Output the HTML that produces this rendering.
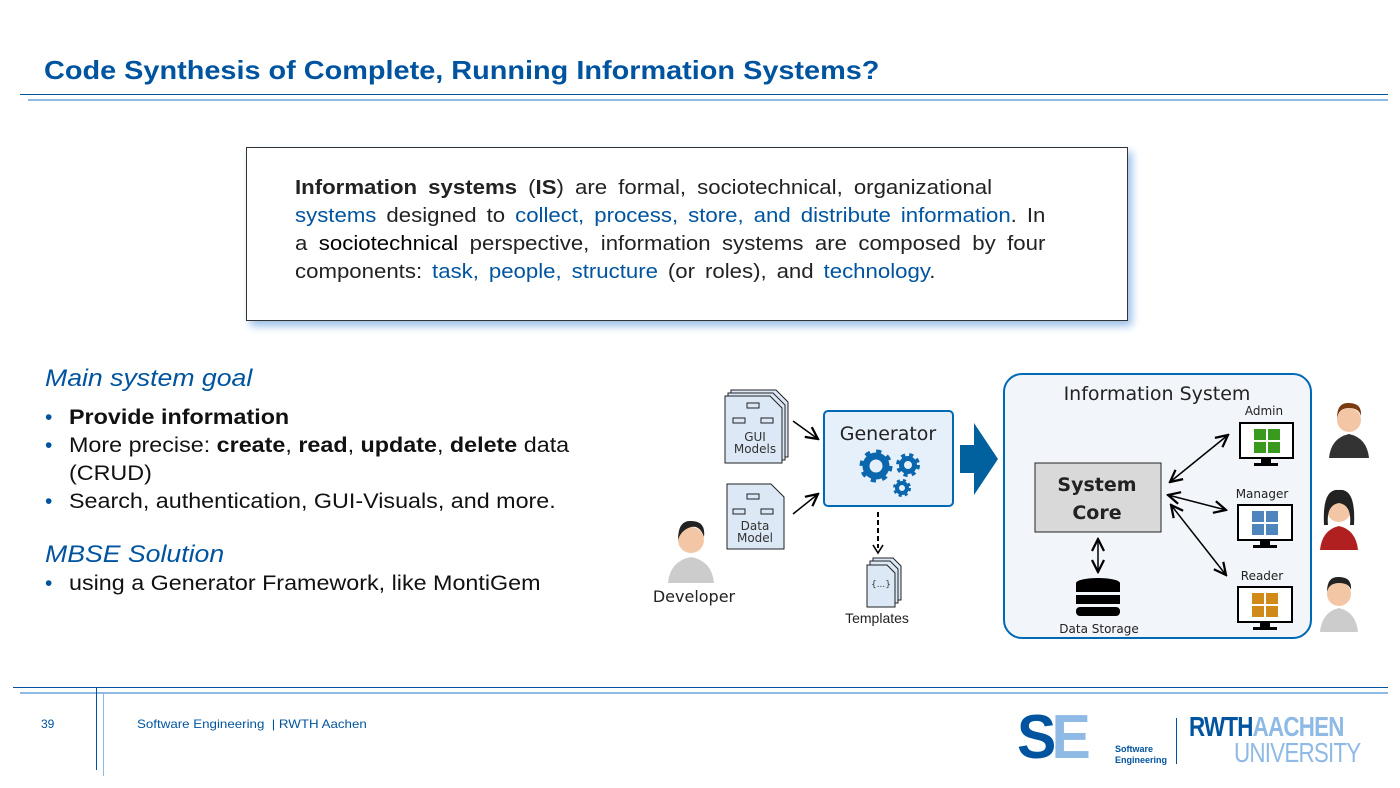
<!DOCTYPE html>
<html><head><meta charset="utf-8"><style>
body{margin:0;width:1400px;height:788px;position:relative;background:#fff;font-family:"Liberation Sans",sans-serif;overflow:hidden}
.a{position:absolute;white-space:nowrap}
.b{color:#00549f}
.w{transform:scaleX(1.11);transform-origin:left top}
.j{text-align:justify;text-align-last:justify;white-space:nowrap}
</style></head><body>
<div class="a b w" style="left:44px;top:55px;font-size:26px;font-weight:bold">Code Synthesis of Complete, Running Information Systems?</div>
<div class="a" style="left:20px;top:94px;width:1368px;height:1px;background:#00549f"></div>
<div class="a" style="left:28px;top:99px;width:1360px;height:2px;background:#8ebae5"></div>

<div class="a" style="left:246px;top:147px;width:880px;height:172px;border:1px solid #333;box-shadow:4px 5px 8px #9cc0ea;background:#fff"></div>
<div class="a w" style="left:295px;top:174px;font-size:20px;line-height:28px;color:#222">
<div class="j" style="width:628px"><b>Information systems</b> (<b>IS</b>) are formal, sociotechnical, organizational</div>
<div class="j" style="width:676px"><span class="b">systems</span> designed to <span class="b">collect, process, store, and distribute information</span>. In</div>
<div class="j" style="width:676px">a <span style="color:#000">sociotechnical</span> perspective, information systems are composed by four</div>
<div class="j" style="width:577px">components: <span class="b">task, people, structure</span> (or roles), and <span class="b">technology</span>.</div>
</div>

<div class="a b w" style="left:45px;top:365px;font-size:24px;font-style:italic">Main system goal</div>
<div class="a" style="left:45px;top:404px;font-size:21px;line-height:28px;color:#111">
<div><span class="b">•</span><span class="a w" style="left:24px"><b>Provide information</b></span></div>
<div><span class="b">•</span><span class="a w" style="left:24px">More precise: <b>create</b>, <b>read</b>, <b>update</b>, <b>delete</b> data</span></div>
<div>&nbsp;<span class="a w" style="left:24px">(CRUD)</span></div>
<div><span class="b">•</span><span class="a w" style="left:24px">Search, authentication, GUI-Visuals, and more.</span></div></div>
<div class="a b w" style="left:45px;top:541px;font-size:24px;font-style:italic">MBSE Solution</div>
<div class="a" style="left:45px;top:572px;font-size:21px;color:#111"><span class="b">•</span><span class="a w" style="left:24px">using a Generator Framework, like MontiGem</span></div>

<svg class="a" style="left:0;top:0" width="1400" height="788" font-family="DejaVu Sans, Liberation Sans, sans-serif">
<defs><marker id="ar" markerWidth="10" markerHeight="10" refX="9" refY="5" orient="auto-start-reverse"><path d="M1,1 L9,5 L1,9" fill="none" stroke="#000" stroke-width="1.5"/></marker></defs>
<g fill="#dce8f5" stroke="#222" stroke-width="1">
<path d="M731,390 h45 l12,12 v55 h-57z"/><path d="M728,393 h45 l12,12 v55 h-57z"/><path d="M725,396 h45 l12,12 v55 h-57z"/>
<path d="M727,484 h44 l13,13 v52 h-57z"/>
<path d="M873,558 h20 l8,8 v34 h-28z"/><path d="M870,561 h20 l8,8 v34 h-28z"/><path d="M867,565 h20 l8,8 v34 h-28z"/>
</g>
<g fill="none" stroke="#222"><rect x="747" y="403" width="12" height="5"/><rect x="733" y="418" width="12" height="5"/><rect x="761" y="418" width="12" height="5"/>
<rect x="747" y="494" width="12" height="5"/><rect x="733" y="509" width="12" height="5"/><rect x="761" y="509" width="12" height="5"/></g>
<text x="755" y="441" font-size="12" text-anchor="middle" fill="#333">GUI</text><text x="755" y="453" font-size="12" text-anchor="middle" fill="#333">Models</text>
<text x="755" y="530" font-size="12" text-anchor="middle" fill="#333">Data</text><text x="755" y="542" font-size="12" text-anchor="middle" fill="#333">Model</text>
<text x="881" y="587" font-size="9" text-anchor="middle" fill="#333">{...}</text>
<text x="877" y="623" font-size="14" text-anchor="middle" fill="#222" font-family="Liberation Sans">Templates</text>
<line x1="793" y1="421" x2="818" y2="439" stroke="#000" stroke-width="1.5" marker-end="url(#ar)"/>
<line x1="793" y1="514" x2="818" y2="494" stroke="#000" stroke-width="1.5" marker-end="url(#ar)"/>
<rect x="824" y="411" width="129" height="95" rx="4" fill="#e6f0fa" stroke="#0069b4" stroke-width="2"/>
<text x="888" y="440" font-size="19" text-anchor="middle" fill="#222">Generator</text>
<g fill="none" stroke="#0b67ad">
<circle cx="876" cy="466" r="10" stroke-width="7"/><circle cx="876" cy="466" r="14" stroke-width="5" stroke-dasharray="5,6"/>
<circle cx="908" cy="465" r="6.5" stroke-width="5"/><circle cx="908" cy="465" r="10" stroke-width="4" stroke-dasharray="4,4"/>
<circle cx="902" cy="488" r="5" stroke-width="4"/><circle cx="902" cy="488" r="7.5" stroke-width="3" stroke-dasharray="3,3"/>
</g>
<g fill="#000"><rect x="877" y="512" width="2" height="5"/><rect x="877" y="520" width="2" height="5"/><rect x="877" y="528" width="2" height="5"/><rect x="877" y="536" width="2" height="5"/><rect x="877" y="544" width="2" height="4"/></g>
<path d="M873,545 L878,553 L883,545" fill="none" stroke="#000" stroke-width="1.6"/>
<path d="M960,445 h14 v-22 l24,36 l-24,36 v-22 h-14z" fill="#00619e"/>
<circle cx="691" cy="540" r="13" fill="#f3c7a6"/><path d="M678,540 q0,-20 13,-19 q15,0 13,16 q-4,-12 -13,-10 q-10,3 -13,13z" fill="#222"/>
<path d="M668,583 q2,-22 23,-26 q21,4 23,26z" fill="#ccc"/>
<text x="694" y="602" font-size="16" text-anchor="middle" fill="#222">Developer</text>
<rect x="1004" y="374" width="307" height="264" rx="18" fill="#f2f6fa" stroke="#0069b4" stroke-width="2"/>
<text x="1157" y="400" font-size="19" text-anchor="middle" fill="#222">Information System</text>
<rect x="1035" y="463" width="126" height="69" fill="#d9d9d9" stroke="#222"/>
<text x="1097" y="491" font-size="19" font-weight="bold" text-anchor="middle" fill="#222">System</text>
<text x="1097" y="519" font-size="19" font-weight="bold" text-anchor="middle" fill="#222">Core</text>
<line x1="1098" y1="539" x2="1098" y2="572" stroke="#000" stroke-width="1.5" marker-start="url(#ar)" marker-end="url(#ar)"/>
<g fill="#000"><ellipse cx="1098" cy="583" rx="22" ry="5"/><rect x="1076" y="583" width="44" height="9"/><rect x="1076" y="595" width="44" height="9"/><rect x="1076" y="607" width="44" height="9" rx="4"/></g>
<text x="1099" y="633" font-size="12" text-anchor="middle" fill="#222">Data Storage</text>
<line x1="1170" y1="482" x2="1228" y2="435" stroke="#000" stroke-width="1.5" marker-start="url(#ar)" marker-end="url(#ar)"/>
<line x1="1168" y1="495" x2="1226" y2="510" stroke="#000" stroke-width="1.5" marker-start="url(#ar)" marker-end="url(#ar)"/>
<line x1="1171" y1="505" x2="1226" y2="575" stroke="#000" stroke-width="1.5" marker-start="url(#ar)" marker-end="url(#ar)"/>
<g font-size="12" text-anchor="middle" fill="#222"><text x="1264" y="415">Admin</text><text x="1262" y="498">Manager</text><text x="1262" y="580">Reader</text></g>
<g fill="#fff" stroke="#000" stroke-width="2"><rect x="1240" y="423" width="53" height="35"/><rect x="1238" y="505" width="54" height="35"/><rect x="1238" y="587" width="54" height="35"/></g>
<g fill="#000"><rect x="1261" y="458" width="10" height="5"/><rect x="1254" y="463" width="24" height="3"/><rect x="1260" y="540" width="10" height="5"/><rect x="1253" y="545" width="24" height="3"/><rect x="1260" y="622" width="10" height="5"/><rect x="1253" y="627" width="24" height="3"/></g>
<g fill="#3a9a1e"><rect x="1254" y="429" width="12" height="11"/><rect x="1268" y="429" width="12" height="11"/><rect x="1254" y="442" width="12" height="11"/><rect x="1268" y="442" width="12" height="11"/></g>
<g fill="#4e85bd"><rect x="1252" y="511" width="12" height="11"/><rect x="1266" y="511" width="12" height="11"/><rect x="1252" y="524" width="12" height="11"/><rect x="1266" y="524" width="12" height="11"/></g>
<g fill="#d08a1a"><rect x="1252" y="593" width="12" height="11"/><rect x="1266" y="593" width="12" height="11"/><rect x="1252" y="606" width="12" height="11"/><rect x="1266" y="606" width="12" height="11"/></g>
<circle cx="1349" cy="420" r="12" fill="#f3c7a6"/><path d="M1337,418 q0,-16 12,-15 q13,0 12,13 q-2,-8 -12,-8 q-10,0 -12,10z" fill="#7a3a12"/><path d="M1329,458 q2,-20 20,-24 q18,4 20,24z" fill="#333"/>
<circle cx="1339" cy="510" r="12" fill="#f3c7a6"/><path d="M1324,525 q-2,-37 15,-35 q17,-2 15,35 l-4,0 q2,-20 -11,-22 q-13,2 -11,22z" fill="#222"/><path d="M1320,550 q2,-20 19,-24 q17,4 19,24z" fill="#b02020"/>
<circle cx="1339" cy="594" r="12" fill="#f3c7a6"/><path d="M1327,592 q0,-16 12,-15 q13,0 12,13 q-2,-7 -12,-7 q-10,0 -12,9z" fill="#222"/><path d="M1320,632 q2,-20 19,-24 q17,4 19,24z" fill="#ccc"/>
</svg>

<div class="a" style="left:13px;top:687px;width:1375px;height:1px;background:#00549f"></div>
<div class="a" style="left:20px;top:692px;width:1368px;height:2px;background:#8ebae5"></div>
<div class="a" style="left:96px;top:687px;width:1px;height:83px;background:#00549f"></div>
<div class="a" style="left:103px;top:693px;width:1px;height:83px;background:#8ebae5"></div>
<div class="a b" style="left:41px;top:717px;font-size:12px">39</div>
<div class="a b w" style="left:137px;top:717px;font-size:12px">Software Engineering &nbsp;| RWTH Aachen</div>
<div class="a" style="left:1017px;top:707px;font-size:62px;font-weight:bold;letter-spacing:-5px;line-height:62px;transform:scaleX(0.95);transform-origin:left"><span style="color:#00549f">S</span><span style="color:#8ebae5">E</span></div>
<div class="a b" style="left:1115px;top:744px;font-size:9px;font-weight:bold;line-height:11px">Software<br>Engineering</div>
<div class="a" style="left:1176px;top:718px;width:1px;height:46px;background:#00549f"></div>
<div class="a" style="left:1189px;top:714px;font-size:28px;font-weight:bold;line-height:26px;letter-spacing:-1px;transform:scaleX(0.8);transform-origin:left"><span style="color:#00549f">RWTH</span><span style="color:#8ebae5">AACHEN</span></div>
<div class="a" style="left:1234px;top:740px;font-size:28px;line-height:26px;color:#8ebae5;letter-spacing:-1px;transform:scaleX(0.8);transform-origin:left">UNIVERSITY</div>
</body></html>
